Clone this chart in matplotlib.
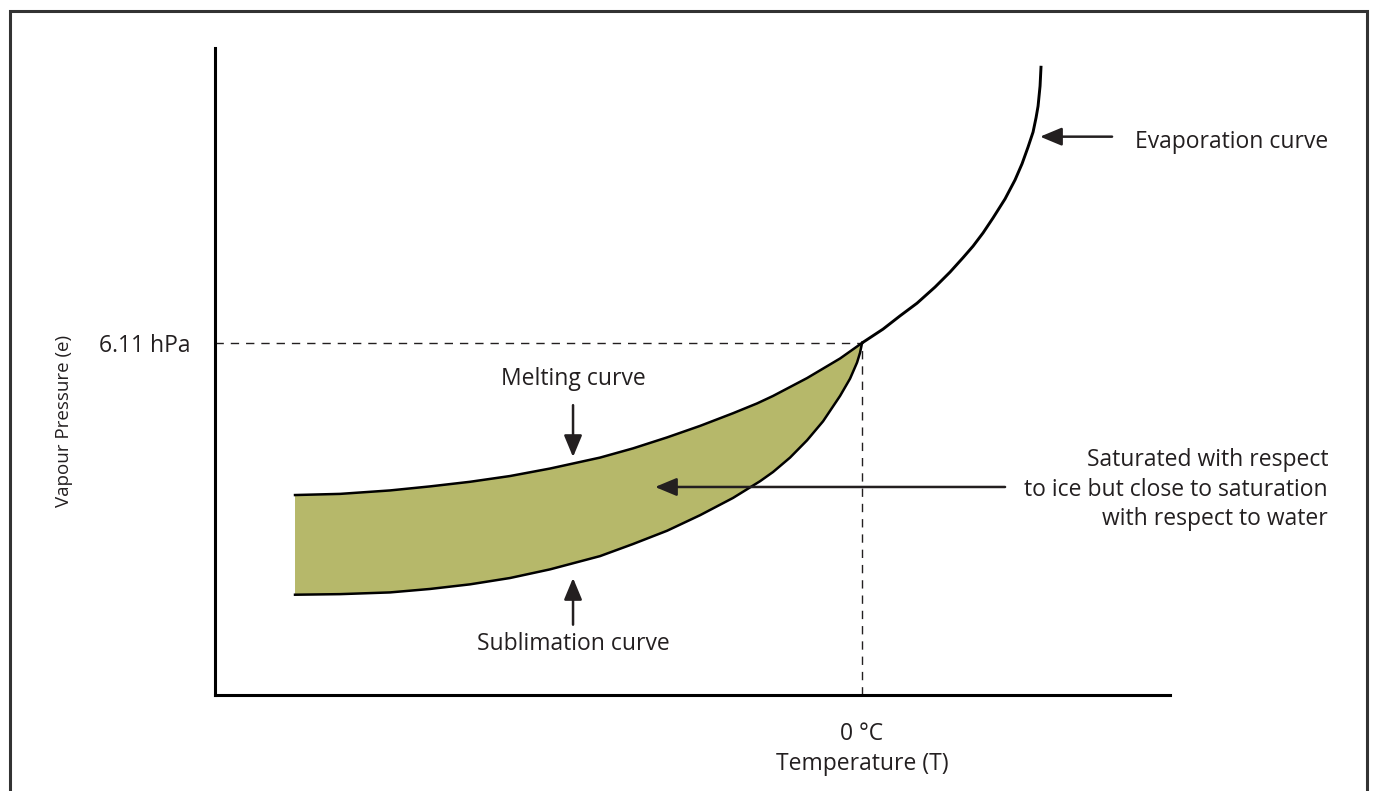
import numpy as np
import matplotlib.pyplot as plt
from matplotlib.patches import Rectangle

plt.rcParams['font.family'] = ['Open Sans', 'DejaVu Sans']

# schematic units: T in arbitrary steps (0 = 0 °C), e in hPa-like units
TRIPLE_T = 0.0
TRIPLE_E = 6.11

evap_t = [0.0, 2.1, 3.8, 5.5, 7.3, 8.8, 10.1, 11.1, 12.1, 13.1, 14.3, 15.3,
          16.0, 16.6, 17.1, 17.4, 17.6, 17.8, 17.9]
evap_e = [6.11, 6.35, 6.58, 6.80, 7.08, 7.34, 7.59, 7.79, 8.02, 8.28, 8.61, 8.94,
          9.22, 9.51, 9.77, 10.02, 10.22, 10.57, 10.92]

melt_t = [-56.7, -52.2, -47.2, -43.2, -39.2, -35.2, -31.2, -26.2, -22.9, -19.5,
          -16.2, -12.9, -10.5, -8.9, -5.5, -2.2, 0.0]
melt_e = [3.47, 3.49, 3.55, 3.62, 3.70, 3.80, 3.93, 4.12, 4.28, 4.47,
          4.67, 4.89, 5.06, 5.19, 5.50, 5.84, 6.11]

subl_t = [-56.7, -52.2, -47.2, -43.2, -39.2, -35.2, -31.2, -26.2, -22.9, -19.5,
          -16.2, -12.9, -10.2, -8.9, -7.2, -5.5, -3.9, -2.2, -1.2, -0.5, -0.2, 0.0]
subl_e = [1.74, 1.75, 1.78, 1.84, 1.92, 2.03, 2.18, 2.41, 2.62, 2.85,
          3.12, 3.42, 3.71, 3.87, 4.12, 4.42, 4.75, 5.19, 5.49, 5.77, 5.94, 6.11]

ink = '#231f20'

fig = plt.figure(figsize=(13.73, 7.91), dpi=100)
ax = fig.add_axes([0.1566, 0.1214, 0.6956, 0.8180])
ax.set_xlim(-64.7, 30.8)
ax.set_ylim(0, 11.23)

for s in ['top', 'right']:
    ax.spines[s].set_visible(False)
for s in ['left', 'bottom']:
    ax.spines[s].set_linewidth(2.2)
    ax.spines[s].set_color('black')
ax.set_xticks([])
ax.set_yticks([])

# band between melting and sublimation curves
band_t = melt_t + subl_t[::-1]
band_e = melt_e + subl_e[::-1]
ax.fill(band_t, band_e, color='#b6b86a', lw=0, zorder=1)

# dashed guides to the triple point
ax.plot([-64.7, TRIPLE_T], [TRIPLE_E, TRIPLE_E], color=ink, lw=1.0,
        dashes=(6, 5), zorder=2)
ax.plot([TRIPLE_T, TRIPLE_T], [0, TRIPLE_E], color=ink, lw=1.0,
        dashes=(6, 5), zorder=2)

ax.plot(evap_t, evap_e, color='black', lw=2.1, zorder=3,
        solid_capstyle='butt', solid_joinstyle='round')
ax.plot(melt_t, melt_e, color='black', lw=1.8, zorder=3, solid_joinstyle='round')
ax.plot(subl_t, subl_e, color='black', lw=1.8, zorder=3, solid_joinstyle='round')

arrow = dict(arrowstyle='-|>,head_length=0.6,head_width=0.25', lw=1.8,
             color=ink, mutation_scale=22, shrinkA=0, shrinkB=0)
ax.annotate('', xy=(17.8, 9.69), xytext=(25.0, 9.69), arrowprops=arrow, annotation_clip=False)
ax.annotate('', xy=(-28.9, 4.13), xytext=(-28.9, 5.03), arrowprops=arrow)
ax.annotate('', xy=(-28.9, 2.03), xytext=(-28.9, 1.22), arrowprops=arrow)
ax.annotate('', xy=(-20.7, 3.61), xytext=(14.3, 3.61), arrowprops=arrow)

fs = 16.5
ax.text(27.3, 9.60, 'Evaporation curve', fontsize=fs, color=ink,
        ha='left', va='center', clip_on=False)
ax.text(-28.9, 5.48, 'Melting curve', fontsize=fs, color=ink,
        ha='center', va='center')
ax.text(-28.9, 0.88, 'Sublimation curve', fontsize=fs, color=ink,
        ha='center', va='center')
ax.text(46.6, 3.56, 'Saturated with respect\nto ice but close to saturation\nwith respect to water',
        fontsize=fs, color=ink, ha='right', va='center', multialignment='right',
        linespacing=1.3, clip_on=False)
ax.text(-67.2, 6.06, '6.11 hPa', fontsize=fs, color=ink,
        ha='right', va='center', clip_on=False)
ax.text(0.0, -0.68, '0 °C', fontsize=fs, color=ink,
        ha='center', va='center', clip_on=False)
ax.text(0.0, -1.20, 'Temperature (T)', fontsize=fs, color=ink,
        ha='center', va='center', clip_on=False)
ax.text(-79.8, 4.76, 'Vapour Pressure (e)', fontsize=13.5, color=ink,
        ha='center', va='center', rotation=90, clip_on=False)

# outer frame, open at the bottom
fig.patches.append(Rectangle((10 / 1373, -0.05), 1357 / 1373, 1.05 - 11 / 791,
                             transform=fig.transFigure, fill=False,
                             edgecolor='#333333', lw=2.2))

fig.savefig('out.png', dpi=100)
